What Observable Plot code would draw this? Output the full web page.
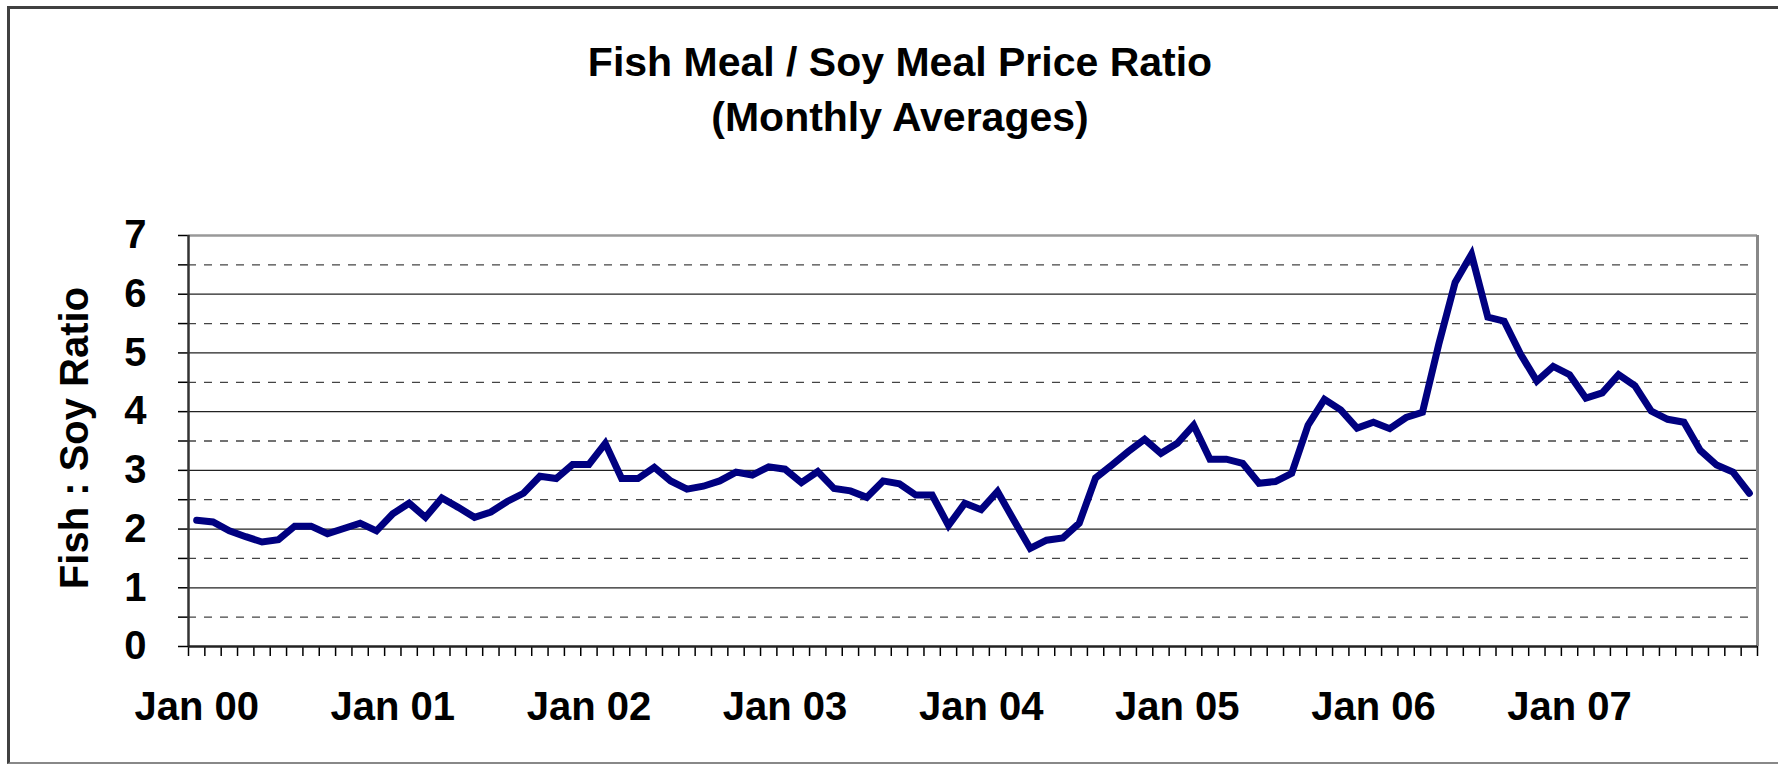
<!DOCTYPE html>
<html>
<head>
<meta charset="utf-8">
<script src="https://cdn.jsdelivr.net/npm/d3@7"></script>
<script src="https://cdn.jsdelivr.net/npm/@observablehq/plot@0.6"></script>
<style>
  html, body { margin: 0; padding: 0; background: #fff; }
  #wrap { position: relative; width: 1778px; height: 764px; overflow: hidden; background: #fff;
          font-family: "Liberation Sans", Arial, sans-serif; }
  #frame { position: absolute; left: 7px; top: 6px; width: 1800px; height: 758px; box-sizing: border-box;
           border-left: 3px solid #404040; border-top: 3px solid #404040; border-bottom: 2px solid #888; pointer-events: none; }
  #title { box-sizing: border-box; height: 170px; padding-top: 35.3px; padding-left: 22px; text-align: center;
           font-weight: bold; font-size: 41px; line-height: 55px; color: #000; }
  #title span { display: block; white-space: nowrap; }
  svg { display: block; }
</style>
</head>
<body>
<div id="wrap">
  <div id="title">
    <span>Fish Meal / Soy Meal Price Ratio</span>
    <span>(Monthly Averages)</span>
  </div>
  <div id="chart"></div>
  <div id="frame"></div>
</div>
<script>
// Year-start labels on the category axis
const yearLabels = ["Jan 00", "Jan 01", "Jan 02", "Jan 03", "Jan 04", "Jan 05", "Jan 06", "Jan 07"];
// Monthly fish meal / soy meal price ratio, Jan 2000 – Dec 2007
const ratio2000 = [2.15, 2.12, 1.97, 1.87, 1.78, 1.82, 2.05, 2.05, 1.92, 2.01, 2.10, 1.97];
const ratio2001 = [2.26, 2.44, 2.20, 2.53, 2.37, 2.20, 2.29, 2.47, 2.61, 2.90, 2.86, 3.10];
const ratio2002 = [3.10, 3.46, 2.86, 2.86, 3.05, 2.82, 2.68, 2.73, 2.82, 2.97, 2.92, 3.06];
const ratio2003 = [3.02, 2.79, 2.98, 2.69, 2.65, 2.54, 2.82, 2.77, 2.58, 2.58, 2.06, 2.44];
const ratio2004 = [2.33, 2.64, 2.15, 1.67, 1.81, 1.85, 2.10, 2.87, 3.09, 3.32, 3.53, 3.29];
const ratio2005 = [3.46, 3.77, 3.19, 3.19, 3.12, 2.78, 2.81, 2.95, 3.77, 4.21, 4.03, 3.72];
const ratio2006 = [3.82, 3.71, 3.90, 3.99, 5.15, 6.20, 6.68, 5.61, 5.54, 4.98, 4.52, 4.77];
const ratio2007 = [4.63, 4.23, 4.32, 4.63, 4.44, 4.01, 3.87, 3.82, 3.34, 3.09, 2.97, 2.61];
const yTicks = [0, 0.5, 1, 1.5, 2, 2.5, 3, 3.5, 4, 4.5, 5, 5.5, 6, 6.5, 7];
const axisTitle = "Fish : Soy Ratio";

const ratio = [].concat(ratio2000, ratio2001, ratio2002, ratio2003, ratio2004, ratio2005, ratio2006, ratio2007);
const series = ratio.map((v, i) => ({month: i + 0.5, value: v}));
const nMonths = ratio.length;

const chart = Plot.plot({
  width: 1778,
  height: 594,
  marginLeft: 188,
  marginRight: 21,
  marginTop: 65,
  marginBottom: 118,
  x: {domain: [0, nMonths], axis: null},
  y: {domain: [0, 7], axis: null},
  style: {fontFamily: "'Liberation Sans', Arial, sans-serif", fontWeight: "bold", fontSize: "40px", color: "#000", background: "transparent"},
  marks: [
    Plot.ruleY(yTicks.filter(d => !Number.isInteger(d)), {stroke: "#444", strokeWidth: 1.3, strokeDasharray: "8,8", strokeOpacity: 1}),
    Plot.ruleY(yTicks.filter(d => Number.isInteger(d) && d > 0 && d < 7), {stroke: "#222", strokeWidth: 1.3, strokeOpacity: 1}),
    Plot.ruleY([7], {stroke: "#999", strokeWidth: 2.5, strokeOpacity: 1}),
    Plot.ruleX([nMonths], {stroke: "#888", strokeWidth: 3, strokeOpacity: 1}),
    Plot.axisY({ticks: yTicks, tickSize: 10, tickPadding: 32, tickFormat: d => Number.isInteger(d) ? String(d) : "", label: null, fontSize: 40, strokeWidth: 1.5, strokeOpacity: 1}),
    Plot.axisX({ticks: d3.range(0, nMonths + 1), tickSize: 10, tickFormat: () => "", label: null, strokeWidth: 1.5, strokeOpacity: 1}),
    Plot.axisX({ticks: yearLabels.map((_, k) => k * 12 + 0.5), tickSize: 0, tickPadding: 45, tickFormat: d => yearLabels[Math.round((d - 0.5) / 12)], label: null, fontSize: 40}),
    Plot.ruleX([0], {stroke: "#333", strokeWidth: 2.5, strokeOpacity: 1}),
    Plot.ruleY([0], {stroke: "#222", strokeWidth: 2.5, strokeOpacity: 1}),
    Plot.line(series, {x: "month", y: "value", stroke: "#000080", strokeWidth: 7, strokeLinejoin: "miter", strokeMiterlimit: 4}),
    Plot.text([axisTitle], {frameAnchor: "left", rotate: -90, dx: -113, dy: -3, fontSize: 40, fontWeight: "bold", textAnchor: "middle", lineAnchor: "middle", text: d => d, fill: "#000"})
  ]
});

document.getElementById("chart").appendChild(chart);
</script>
</body>
</html>
